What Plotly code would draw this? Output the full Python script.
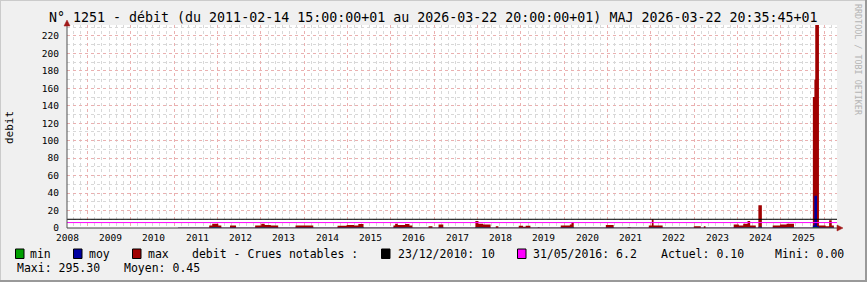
import plotly.graph_objects as go
import pandas as pd

# ---------------- data ----------------
title_text = "N° 1251 - débit (du 2011-02-14 15:00:00+01 au 2026-03-22 20:00:00+01) MAJ 2026-03-22 20:35:45+01"

# step breakpoints in decimal years (value holds until next breakpoint)
step_years = [2010.56, 2011.28, 2011.35, 2011.49, 2011.56, 2011.76, 2011.90,
              2012.34, 2012.48, 2012.56, 2012.70, 2012.87, 2013.27, 2013.68,
              2014.24, 2014.45, 2014.62, 2014.72, 2014.84, 2015.53, 2015.57,
              2015.63, 2015.80, 2015.90, 2015.97, 2016.34, 2016.43, 2016.57,
              2016.68, 2017.42, 2017.49, 2017.60, 2017.77, 2017.89, 2017.95,
              2018.42, 2018.52, 2018.58, 2018.69, 2018.86, 2018.90, 2019.39,
              2019.60, 2019.64, 2019.69, 2020.43, 2020.61, 2020.93, 2021.00,
              2021.42, 2021.49, 2021.53, 2021.74, 2022.46, 2022.62, 2022.69,
              2022.73, 2023.38, 2023.50, 2023.60, 2023.70, 2023.76, 2023.89,
              2023.95, 2024.03, 2024.28, 2024.45, 2024.60, 2024.77, 2025.205,
              2025.24, 2025.26, 2025.30, 2025.345, 2025.50, 2025.58, 2025.64,
              2025.69]
max_vals = [0.4, 3, 5, 3, 0.4, 3, 0.4,
            3, 5, 3.5, 3, 0.4, 3, 0.4,
            2.5, 3.5, 3, 4.5, 0.4, 3, 5,
            3.5, 4.5, 3, 0.4, 2, 0.4, 4,
            0.4, 8, 5, 4, 0.4, 2, 0.4,
            2.5, 1.5, 2.5, 0.4, 1, 0.4, 3,
            4, 7, 0.4, 3.5, 0.4, 1, 0.4,
            3, 10, 3, 0.4, 2, 0.4, 2,
            0.4, 4, 3, 5, 8, 3, 0.4,
            26, 0.4, 3, 4, 5, 0.4, 150,
            170, 295.3, 295.3, 3, 2, 9, 3,
            0]
moy_vals = [0.2, 0.5, 1.2, 0.5, 0.2, 0.6, 0.2,
            0.5, 1.0, 0.6, 0.5, 0.2, 0.6, 0.2,
            0.5, 0.6, 0.5, 0.8, 0.2, 0.5, 1.0,
            0.6, 0.8, 0.5, 0.2, 0.4, 0.2, 0.7,
            0.2, 1.0, 0.8, 0.6, 0.2, 0.4, 0.2,
            0.4, 0.3, 0.4, 0.2, 0.3, 0.2, 0.5,
            0.6, 0.8, 0.2, 0.6, 0.2, 0.3, 0.2,
            0.5, 1.0, 0.5, 0.2, 0.4, 0.2, 0.4,
            0.2, 0.6, 0.5, 0.7, 0.9, 0.5, 0.2,
            1.5, 0.2, 0.5, 0.6, 0.8, 0.2, 3,
            37, 37, 2, 0.5, 0.4, 0.8, 0.5,
            0]
min_vals = [0.0, 0.1, 0.2, 0.1, 0.0, 0.1, 0.0,
            0.1, 0.2, 0.1, 0.1, 0.0, 0.1, 0.0,
            0.1, 0.1, 0.1, 0.2, 0.0, 0.1, 0.2,
            0.1, 0.2, 0.1, 0.0, 0.1, 0.0, 0.1,
            0.0, 0.2, 0.2, 0.1, 0.0, 0.1, 0.0,
            0.1, 0.1, 0.1, 0.0, 0.1, 0.0, 0.1,
            0.1, 0.2, 0.0, 0.1, 0.0, 0.1, 0.0,
            0.1, 0.2, 0.1, 0.0, 0.1, 0.0, 0.1,
            0.0, 0.1, 0.1, 0.2, 0.2, 0.1, 0.0,
            0.3, 0.0, 0.1, 0.1, 0.2, 0.0, 0.5,
            1.0, 1.0, 0.3, 0.1, 0.1, 0.2, 0.1,
            0]

ref_lines_vals = [10, 6.2]
ref_lines_colors = ["#000000", "#FF00FF"]

x_start_year = 2008.0
x_end_year = 2025.762
y_max = 232.5

# ---------------- helpers ----------------
def dy(v):
    y = int(v)
    a = pd.Timestamp(year=y, month=1, day=1)
    b = pd.Timestamp(year=y + 1, month=1, day=1)
    return a + (b - a) * (v - y)

dates = [dy(v) for v in step_years]

W, H = 867, 282
L, R, T, B = 67, 837, 25, 228
PW, PH = R - L, B - T

def fx(px):
    return (px - L) / PW

def fy(py):
    return (B - py) / PH

MONO = "DejaVu Sans Mono"

fig = go.Figure()
for vals, col, name in [(max_vals, "#A00000", "max"),
                        (moy_vals, "#0000A0", "moy"),
                        (min_vals, "#00A000", "min")]:
    fig.add_trace(go.Scatter(x=dates, y=vals, mode="lines",
                             line=dict(width=0, shape="hv", color=col),
                             fill="tozeroy", fillcolor=col, name=name,
                             showlegend=False, hoverinfo="skip"))

red_grid = "#EAB0B0"
gray_grid = "#D8D8D8"
dash = "dot"

fig.update_layout(
    width=W, height=H,
    margin=dict(l=L, r=W - R, t=T, b=H - B, pad=0),
    paper_bgcolor="#F0F0F0", plot_bgcolor="#FFFFFF",
    font=dict(family=MONO, size=9.5, color="#000000"),
    showlegend=False,
    xaxis=dict(type="date", range=[dy(x_start_year), dy(x_end_year)],
               tick0="2008-06-21", dtick="M12",
               showgrid=True, gridcolor=red_grid, griddash=dash, gridwidth=1,
               minor=dict(dtick="M2", tick0="2008-06-21", showgrid=True,
                          gridcolor=gray_grid, griddash=dash, gridwidth=1),
               showticklabels=False,
               zeroline=False, showline=False, ticks=""),
    yaxis=dict(range=[0, y_max], dtick=20, tick0=0, showgrid=True,
               gridcolor=red_grid, griddash=dash, gridwidth=1,
               minor=dict(dtick=10, showgrid=True, gridcolor=gray_grid,
                          griddash=dash, gridwidth=1),
               zeroline=False, showline=False, ticks="",
               tickfont=dict(family=MONO, size=9.5), ticklabelstandoff=7),
)

shapes = []
# frame
shapes.append(dict(type="line", xref="paper", yref="paper", x0=fx(0), x1=fx(W), y0=fy(0.5), y1=fy(0.5),
                   line=dict(color="#CBCBCB", width=1), layer="above"))
shapes.append(dict(type="line", xref="paper", yref="paper", x0=fx(0.5), x1=fx(0.5), y0=fy(0), y1=fy(H),
                   line=dict(color="#CBCBCB", width=1), layer="above"))
shapes.append(dict(type="line", xref="paper", yref="paper", x0=fx(0), x1=fx(W), y0=fy(H - 1), y1=fy(H - 1),
                   line=dict(color="#999999", width=2), layer="above"))
shapes.append(dict(type="line", xref="paper", yref="paper", x0=fx(W - 1), x1=fx(W - 1), y0=fy(0), y1=fy(H),
                   line=dict(color="#999999", width=2), layer="above"))
# reference lines
for v, c in zip(ref_lines_vals, ref_lines_colors):
    shapes.append(dict(type="line", xref="paper", yref="y", x0=0, x1=1, y0=v, y1=v,
                       line=dict(color=c, width=1), layer="above"))
# axes
shapes.append(dict(type="line", xref="paper", yref="paper", x0=fx(67), x1=fx(67), y0=fy(B), y1=fy(22),
                   line=dict(color="#505050", width=1), layer="above"))
shapes.append(dict(type="line", xref="paper", yref="paper", x0=fx(67), x1=fx(838), y0=fy(B), y1=fy(B),
                   line=dict(color="#404040", width=1), layer="above"))
arrow_col = "#A01818"
shapes.append(dict(type="path", xref="paper", yref="paper",
                   path=f"M {fx(64)} {fy(26)} L {fx(70)} {fy(26)} L {fx(67)} {fy(20)} Z",
                   fillcolor=arrow_col, line=dict(color=arrow_col, width=0.5), layer="above"))
shapes.append(dict(type="path", xref="paper", yref="paper",
                   path=f"M {fx(837)} {fy(225)} L {fx(837)} {fy(231)} L {fx(843)} {fy(B)} Z",
                   fillcolor=arrow_col, line=dict(color=arrow_col, width=0.5), layer="above"))

# legend squares
sq = [(15, "#00A000"), (73, "#0000A0"), (132, "#A00000"), (381, "#000000"), (517, "#FF00FF")]
for sx, c in sq:
    shapes.append(dict(type="rect", xref="paper", yref="paper",
                       x0=fx(sx + 0.5), x1=fx(sx + 9), y0=fy(249), y1=fy(258.5),
                       fillcolor=c, line=dict(color="#000000", width=1), layer="above"))
fig.update_layout(shapes=shapes)

ann = []
ann.append(dict(text=title_text, x=fx(433.5), y=fy(18), xref="paper", yref="paper",
                xanchor="center", yanchor="middle", showarrow=False,
                font=dict(family=MONO, size=13.3, color="#000000")))
ann.append(dict(text="debit", x=fx(10), y=fy(128), xref="paper", yref="paper",
                xanchor="center", yanchor="middle", showarrow=False, textangle=-90,
                font=dict(family=MONO, size=11, color="#000000")))
ann.append(dict(text="RRDTOOL / TOBI OETIKER", x=fx(858), y=fy(60), xref="paper", yref="paper",
                xanchor="center", yanchor="middle", showarrow=False, textangle=90,
                font=dict(family=MONO, size=8.4, color="#B4B4B4")))

# year labels (x axis labels are offset from the grid, drawn as text at Jan 1 of each year)
year_labels = list(range(2008, 2026))
for yl in year_labels:
    ann.append(dict(text=str(yl), x=dy(float(yl)), y=fy(237), xref="x", yref="paper",
                    xanchor="center", yanchor="middle", showarrow=False,
                    font=dict(family=MONO, size=9.5, color="#000000")))

leg_texts = [("min", 29, 254), ("moy", 88, 254), ("max", 147, 254),
             ("debit - Crues notables :", 191, 254),
             ("23/12/2010: 10", 397, 254), ("31/05/2016: 6.2", 532, 254),
             ("Actuel: 0.10", 660, 254), ("Mini: 0.00", 774, 254),
             ("Maxi: 295.30", 16, 268), ("Moyen: 0.45", 123, 268)]
for t, lx, ly in leg_texts:
    ann.append(dict(text=t, x=fx(lx - 1), y=fy(ly), xref="paper", yref="paper",
                    xanchor="left", yanchor="middle", showarrow=False,
                    font=dict(family=MONO, size=11.5, color="#000000")))
fig.update_layout(annotations=ann)

fig.write_html("out.html")
